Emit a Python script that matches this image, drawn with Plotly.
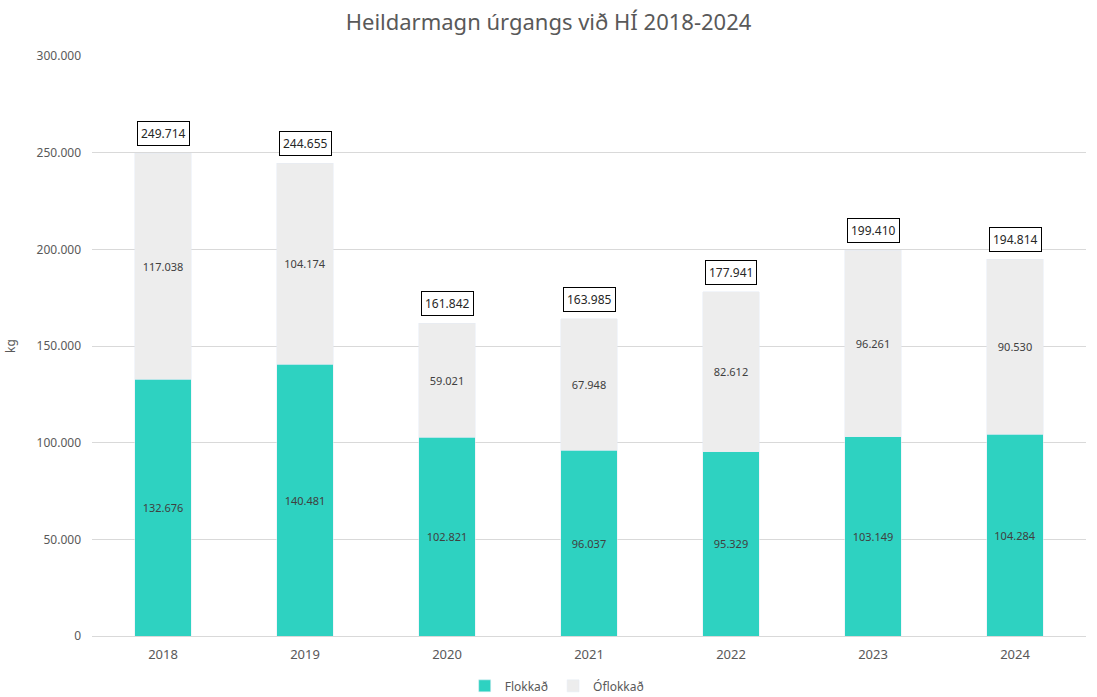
import plotly.graph_objects as go

years = ["2018", "2019", "2020", "2021", "2022", "2023", "2024"]
flokkad = [132676, 140481, 102821, 96037, 95329, 103149, 104284]
oflokkad = [117038, 104174, 59021, 67948, 82612, 96261, 90530]
totals = [a + b for a, b in zip(flokkad, oflokkad)]

def fmt(v):
    return f"{v:,}".replace(",", ".")

fig = go.Figure()
fig.add_trace(go.Bar(
    x=years, y=flokkad, name="Flokkað", marker_color="#2ED2C1",
    text=[fmt(v) for v in flokkad], textposition="inside", insidetextanchor="middle",
    textfont=dict(color="#404040", size=11, family="Noto Sans"), width=0.4,
))
fig.add_trace(go.Bar(
    x=years, y=oflokkad, name="Óflokkað", marker_color="#EDEDED",
    text=[fmt(v) for v in oflokkad], textposition="inside", insidetextanchor="middle",
    textfont=dict(color="#404040", size=11, family="Noto Sans"), width=0.4,
))
# category axis: annotation positions given as category index
for i, t in enumerate(totals):
    fig.add_annotation(
        x=i, y=t, text=fmt(t), showarrow=False, yanchor="bottom", yshift=7,
        font=dict(color="#262626", size=12, family="Noto Sans"),
        bordercolor="#000000", borderwidth=1, borderpad=3, bgcolor="white",
    )

fig.update_layout(
    barmode="stack",
    separators=",.",
    width=1097, height=697,
    paper_bgcolor="white", plot_bgcolor="white",
    margin=dict(l=92, r=11, t=56, b=61, autoexpand=False),
    title=dict(text="Heildarmagn úrgangs við HÍ 2018-2024", x=0.5, xanchor="center",
               y=0.968, yanchor="middle",
               font=dict(family="Noto Sans", size=22, color="#595959")),
    legend=dict(orientation="h", x=0.468, xanchor="center", yref="container",
                y=0.016, yanchor="middle",
                font=dict(family="Noto Sans", size=12, color="#595959"),
                itemwidth=30, traceorder="normal"),
    yaxis=dict(range=[0, 300000], dtick=50000, tickformat=",d",
               gridcolor="#D9D9D9", gridwidth=1, zeroline=False,
               showline=False, ticks="", ticklen=0, ticklabelstandoff=10,
               tickfont=dict(family="Noto Sans", size=12, color="#595959"),
               title=dict(text="kg", font=dict(family="Noto Sans", size=12, color="#595959"),
                          standoff=18)),
    xaxis=dict(type="category", showline=True, linecolor="#D9D9D9", ticks="",
               ticklabelstandoff=6,
               tickfont=dict(family="Noto Sans", size=13, color="#595959")),
)

fig.write_html("out.html", config={"displayModeBar": False},
               post_script="document.body.style.margin='0';")
